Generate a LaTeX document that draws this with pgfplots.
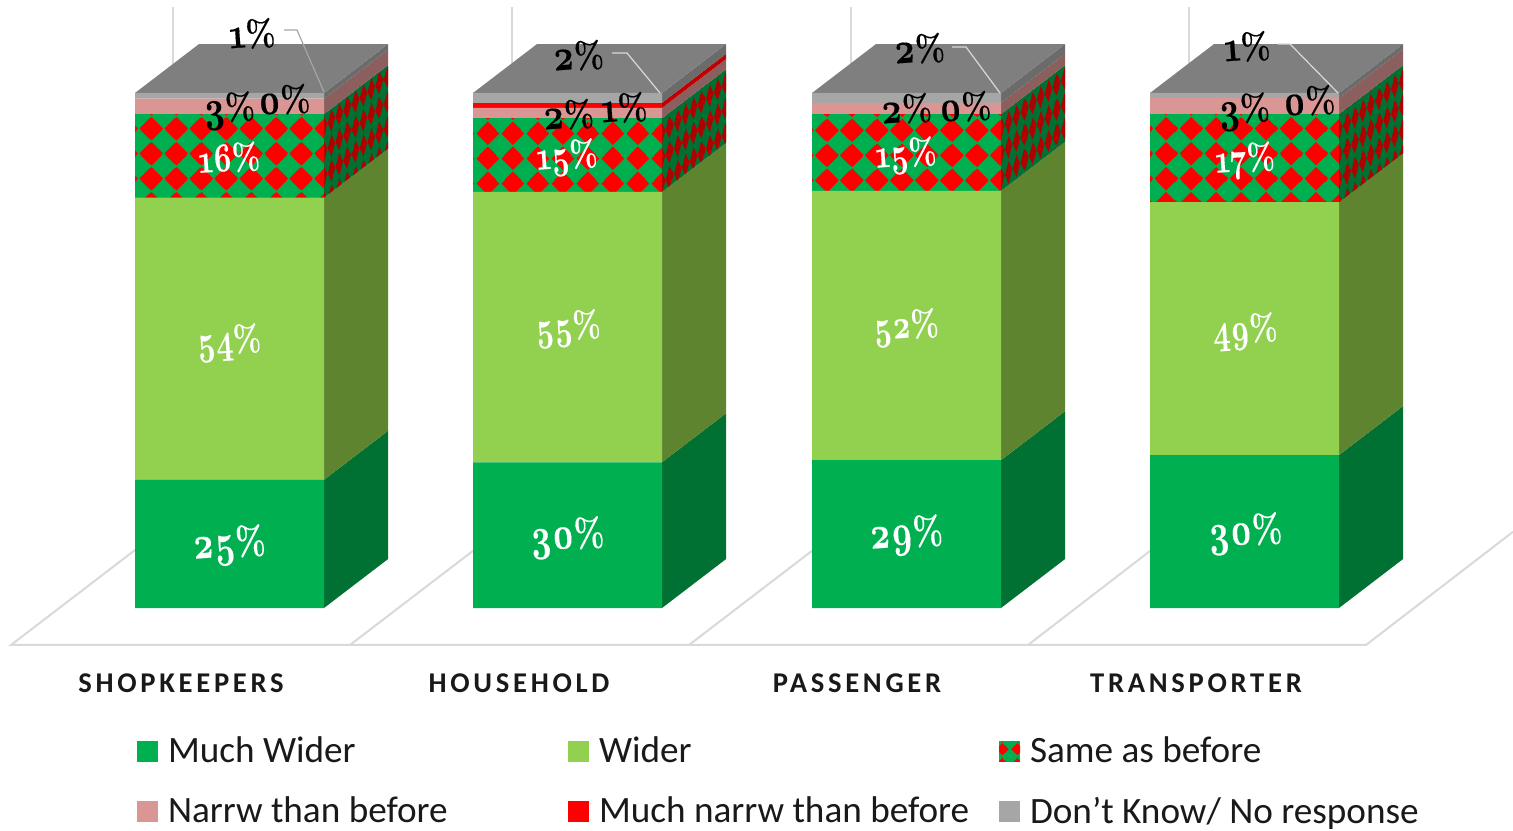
\documentclass[border=0pt]{standalone}
\usepackage{fontspec}
\setmainfont{Carlito}
\newfontfamily\lbl[Numbers=OldStyle,BoldFeatures={FakeBold=0.4}]{Latin Modern Roman}
\newfontfamily\catf[LetterSpace=13]{Carlito}
\usepackage{pgfplots}
\pgfplotsset{compat=1.18}
\usetikzlibrary{patterns}

\definecolor{cGreen}{HTML}{00B050}
\definecolor{cWider}{HTML}{92D050}
\definecolor{cNarrow}{HTML}{D99694}
\definecolor{cMuch}{HTML}{FF0000}
\definecolor{cDK}{HTML}{A6A6A6}
\definecolor{sGreen}{HTML}{007033}
\definecolor{sWider}{HTML}{5F8430}
\definecolor{sNarrow}{HTML}{8B5F5E}
\definecolor{sMuch}{HTML}{C00000}
\definecolor{sDK}{HTML}{6B6B6B}
\definecolor{sRed}{HTML}{B00000}
\definecolor{cTop}{HTML}{7F7F7F}
\definecolor{cGrid}{HTML}{D9D9D9}

% front pattern: name, cell x, cell y, centre x, centre y, half width
\newcommand\declfront[6]{%
 \pgfdeclarepatternformonly{#1}{\pgfqpoint{0pt}{0pt}}{\pgfqpoint{#2pt}{#3pt}}{\pgfqpoint{#2pt}{#3pt}}{%
  \foreach \xa in {0,1,-1}{\foreach \ya in {0,1,-1}{%
   \pgfpathmoveto{\pgfpoint{#4pt+\xa*#2pt}{#5pt+\ya*#3pt+#6pt}}%
   \pgfpathlineto{\pgfpoint{#4pt+\xa*#2pt+#6pt}{#5pt+\ya*#3pt}}%
   \pgfpathlineto{\pgfpoint{#4pt+\xa*#2pt}{#5pt+\ya*#3pt-#6pt}}%
   \pgfpathlineto{\pgfpoint{#4pt+\xa*#2pt-#6pt}{#5pt+\ya*#3pt}}%
   \pgfpathclose\pgfusepath{fill}}}}}
% side pattern: name, centre x, centre y
\newcommand\declside[3]{%
 \pgfdeclarepatternformonly{#1}{\pgfqpoint{0pt}{0pt}}{\pgfqpoint{16pt}{12.5pt}}{\pgfqpoint{16pt}{12.5pt}}{%
  \foreach \ia in {0,1,2,3}{\foreach \xa in {0,1,-1}{\foreach \ya in {0,1,-1}{%
   \pgfmathsetmacro\ux{#2+4*\ia+16*\xa}\pgfmathsetmacro\uy{#3+3.125*\ia+12.5*\ya}%
   \pgfpathmoveto{\pgfpoint{\ux pt}{\uy pt+5.6pt}}%
   \pgfpathlineto{\pgfpoint{\ux pt+1.9pt}{\uy pt+1.5pt}}%
   \pgfpathlineto{\pgfpoint{\ux pt}{\uy pt-5.6pt}}%
   \pgfpathlineto{\pgfpoint{\ux pt-1.9pt}{\uy pt-1.5pt}}%
   \pgfpathclose\pgfusepath{fill}}}}}}
\declfront{diamA}{12.5}{12.5}{0.85}{0.85}{5.85}
\declfront{diamB}{12.5}{12.5}{6.65}{11}{5.85}
\declfront{diamC}{12.5}{12.5}{1.15}{0}{5.85}
\declfront{diamD}{12.5}{12.5}{8.35}{0.85}{5.85}
\declfront{diamL}{7.5}{7.2}{6.35}{4.5}{3.1}
\declside{sideA}{5.85}{5}
\declside{sideB}{15}{1.65}
\declside{sideC}{8.5}{4.15}
\declside{sideD}{1.65}{3.35}

\pgfplotsset{common/.style={
  width=756.5pt,height=415pt,scale only axis,
  at={(0pt,0pt)},anchor=south west,
  xmin=0,xmax=1513,ymin=-43.107,ymax=118.058,
  enlargelimits=false}}

% side face: x front, x back, lo, hi, lo+depth, hi+depth, options
\newcommand\sd[7]{\addplot[draw=none,#7] coordinates {(#1,#3) (#2,#5) (#2,#6) (#1,#4)} -- cycle;}
\newcommand\topf[4]{\addplot[draw=none,fill=cTop] coordinates {(#1,100) (#2,109.5) (#3,109.5) (#4,100)} -- cycle;}
\tikzset{same side/.style={fill=sGreen,postaction={pattern=#1,pattern color=sRed}}}

% label: x px, y px, text
\newcommand\pc[4][black]{\node[text=#1,rotate=4,inner sep=0pt,yshift=-.5pt,font=\lbl\bfseries] at (axis cs:#2,{(608-#3)/5.15}) {#4};}
\newcommand\pbig[1]{{\fontsize{23}{24}\selectfont\scalebox{.76}[1]{#1}\fontsize{20}{20}\selectfont\scalebox{.8}[1]{\%}}}
\newcommand\pmid[1]{{\fontsize{20.5}{22}\selectfont\scalebox{.74}[1]{#1}\fontsize{18.5}{20}\selectfont\scalebox{.8}[1]{\%}}}
\newcommand\psml[1]{{\fontsize{22}{22}\selectfont\scalebox{.8}[1]{#1}\fontsize{18.5}{20}\selectfont\scalebox{.85}[1]{\%}}}

\begin{document}
\begin{tikzpicture}
\path[use as bounding box] (0pt,0pt) rectangle (756.5pt,415pt);
\begin{axis}[common,hide axis,clip=false]
  % walls and floor
  \addplot[cGrid,line width=1pt] coordinates {(173,116.7) (173,100)};
  \addplot[cGrid,line width=1pt] coordinates {(512,116.7) (512,100)};
  \addplot[cGrid,line width=1pt] coordinates {(851,116.7) (851,100)};
  \addplot[cGrid,line width=1pt] coordinates {(1189,116.7) (1189,100)};
  \addplot[cGrid,line width=1pt] coordinates {(173,16.9) (11,-7.18) (1366,-7.18) (1513,14.8)};
  \addplot[cGrid,line width=1pt] coordinates {(350,-7.18) (512,16.9)};
  \addplot[cGrid,line width=1pt] coordinates {(689,-7.18) (851,16.9)};
  \addplot[cGrid,line width=1pt] coordinates {(1028,-7.18) (1189,16.9)};
  % side faces
  \sd{324}{388}{0}{24.9}{9.5}{34.4}{fill=sGreen}
  \sd{324}{388}{24.9}{79.7}{34.4}{89.2}{fill=sWider}
  \sd{324}{388}{79.7}{95.9}{89.2}{105.4}{same side=sideA}
  \sd{324}{388}{95.9}{98.9}{105.4}{108.4}{fill=sNarrow}
  \sd{324}{388}{98.9}{100}{108.4}{109.5}{fill=sDK}
  \topf{135}{199}{388}{324}
  \sd{662}{726}{0}{28.3}{9.5}{37.8}{fill=sGreen}
  \sd{662}{726}{28.3}{80.8}{37.8}{90.3}{fill=sWider}
  \sd{662}{726}{80.8}{95.1}{90.3}{104.6}{same side=sideB}
  \sd{662}{726}{95.1}{97.1}{104.6}{106.6}{fill=sNarrow}
  \sd{662}{726}{97.1}{98.1}{106.6}{107.6}{fill=sMuch}
  \sd{662}{726}{98.1}{100}{107.6}{109.5}{fill=sDK}
  \topf{473}{537}{726}{662}
  \sd{1001}{1065}{0}{28.7}{9.5}{38.2}{fill=sGreen}
  \sd{1001}{1065}{28.7}{81.0}{38.2}{90.5}{fill=sWider}
  \sd{1001}{1065}{81.0}{95.9}{90.5}{105.4}{same side=sideC}
  \sd{1001}{1065}{95.9}{98.1}{105.4}{107.6}{fill=sNarrow}
  \sd{1001}{1065}{98.1}{100}{107.6}{109.5}{fill=sDK}
  \topf{812}{876}{1065}{1001}
  \sd{1339}{1403}{0}{29.7}{9.5}{39.2}{fill=sGreen}
  \sd{1339}{1403}{29.7}{78.8}{39.2}{88.3}{fill=sWider}
  \sd{1339}{1403}{78.8}{95.9}{88.3}{105.4}{same side=sideD}
  \sd{1339}{1403}{95.9}{99.0}{105.4}{108.5}{fill=sNarrow}
  \sd{1339}{1403}{99.0}{100}{108.5}{109.5}{fill=sDK}
  \topf{1150}{1214}{1403}{1339}
\end{axis}
\begin{axis}[common,
  ybar stacked,bar width=94.5pt,clip=false,
  axis line style={draw=none},
  xtick={181,519,857,1196},
  xticklabels={SHOPKEEPERS,HOUSEHOLD,PASSENGER,TRANSPORTER},
  ytick=\empty,
  major tick length=0pt,
  xticklabel style={font=\catf\bfseries\fontsize{14.3}{15}\selectfont,text=black!90,yshift=81.5pt},
  legend columns=3,
  legend image code/.code={\fill[#1] (0pt,-5.25pt) rectangle (10.5pt,5.25pt);},
  legend style={at={(axis cs:137,-43.107)},anchor=south west,draw=none,fill=none,inner sep=0pt,outer sep=0pt,
    font=\fontsize{18.6}{22}\selectfont,text=black!90,
    /tikz/row sep=11.5pt,/tikz/column sep=0pt},
]
  \addplot[fill=cGreen,draw=none] coordinates {(229.5,24.9) (567.5,28.3) (906.5,28.7) (1244.5,29.7)};
  \addlegendentry{\makebox[201pt][l]{\hspace{3pt}Much Wider}}
  \addplot[fill=cWider,draw=none] coordinates {(229.5,54.8) (567.5,52.5) (906.5,52.3) (1244.5,49.1)};
  \addlegendentry{\makebox[201pt][l]{\hspace{3pt}Wider}}
  \addlegendimage{fill=cGreen,draw=none,postaction={pattern=diamL,pattern color=red}}
  \addlegendentry{\makebox[201pt][l]{\hspace{3pt}Same as before}}
  \addplot[forget plot,fill=cGreen,draw=none,postaction={pattern=diamA,pattern color=red}] coordinates {(229.5,16.2) (567.5,0) (906.5,0) (1244.5,0)};
  \addplot[forget plot,fill=cGreen,draw=none,postaction={pattern=diamB,pattern color=red}] coordinates {(229.5,0) (567.5,14.3) (906.5,0) (1244.5,0)};
  \addplot[forget plot,fill=cGreen,draw=none,postaction={pattern=diamC,pattern color=red}] coordinates {(229.5,0) (567.5,0) (906.5,14.9) (1244.5,0)};
  \addplot[forget plot,fill=cGreen,draw=none,postaction={pattern=diamD,pattern color=red}] coordinates {(229.5,0) (567.5,0) (906.5,0) (1244.5,17.1)};
  \addplot[fill=cNarrow,draw=none] coordinates {(229.5,3.0) (567.5,2.0) (906.5,2.2) (1244.5,3.1)};
  \addlegendentry{\makebox[201pt][l]{\hspace{3pt}Narrw than before}}
  \addplot[fill=cMuch,draw=none] coordinates {(229.5,0) (567.5,1.0) (906.5,0) (1244.5,0)};
  \addlegendentry{\makebox[201pt][l]{\hspace{3pt}Much narrw than before}}
  \addplot[fill=cDK,draw=none] coordinates {(229.5,1.1) (567.5,1.9) (906.5,1.9) (1244.5,1.0)};
  \addlegendentry{\makebox[201pt][l]{\hspace{3pt}Don’t Know/ No response}}
\end{axis}
\begin{axis}[common,hide axis,clip=false]
  \addplot[draw=none] coordinates {(0,0) (1,0)};
  % leader lines
  \draw[cDK,line width=.6pt] (axis cs:284,{(608-30)/5.15}) -- (axis cs:297,{(608-30)/5.15}) -- (axis cs:324,{(608-92)/5.15});
  \draw[cGrid,line width=.6pt] (axis cs:612,{(608-53)/5.15}) -- (axis cs:627,{(608-53)/5.15}) -- (axis cs:660,{(608-93)/5.15});
  \draw[cGrid,line width=.6pt] (axis cs:952,{(608-47)/5.15}) -- (axis cs:966,{(608-47)/5.15}) -- (axis cs:1000,{(608-93)/5.15});
  \draw[cGrid,line width=.6pt] (axis cs:1278,{(608-44)/5.15}) -- (axis cs:1290,{(608-44)/5.15}) -- (axis cs:1338,{(608-93)/5.15});
  % data labels
  \pc[white]{229}{545}{\pbig{25}}
  \pc[white]{229}{342}{\pmid{54}}
  \pc[white]{229}{157}{\pmid{16}}
  \pc{229}{110}{\psml{3}}
  \pc{284}{99}{\psml{0}}
  \pc{252}{33}{\psml{1}}
  \pc[white]{567}{537}{\pbig{30}}
  \pc[white]{568}{328}{\pmid{55}}
  \pc[white]{567}{157}{\pmid{15}}
  \pc{568}{114}{\psml{2}}
  \pc{624}{107}{\psml{1}}
  \pc{578}{55}{\psml{2}}
  \pc[white]{906}{535}{\pbig{29}}
  \pc[white]{906}{327}{\pmid{52}}
  \pc[white]{906}{155}{\pmid{15}}
  \pc{906}{108}{\psml{2}}
  \pc{965}{106}{\psml{0}}
  \pc{919}{48}{\psml{2}}
  \pc[white]{1245}{533}{\pbig{30}}
  \pc[white]{1245}{331}{\pmid{49}}
  \pc[white]{1245}{160}{\pmid{17}}
  \pc{1244}{111}{\psml{3}}
  \pc{1309}{100}{\psml{0}}
  \pc{1247}{46}{\psml{1}}
\end{axis}
\end{tikzpicture}
\end{document}
